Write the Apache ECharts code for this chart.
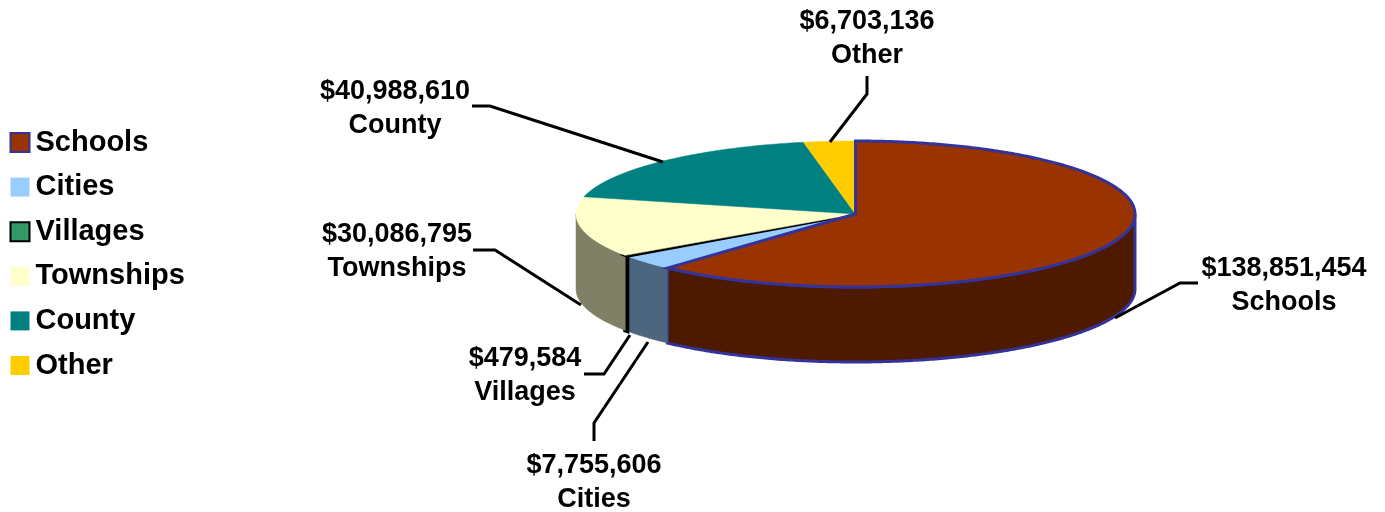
<!DOCTYPE html>
<html><head><meta charset="utf-8">
<style>html,body{margin:0;padding:0;background:#fff}#c{width:1385px;height:512px}</style>
<script src="https://cdn.jsdelivr.net/npm/echarts@6/dist/echarts.min.js"></script>
</head><body><div id="c"></div>
<script>
var categories = ['Schools','Cities','Villages','Townships','County','Other'];
var values = [138851454,7755606,479584,30086795,40988610,6703136];
var topColors = ['#993300','#99ccff','#339966','#ffffcc','#008080','#ffcc00'];
var sideColors = ['#4d1a00','#4d6680','#1a4d33','#808066','#004040','#806600'];
var strokeColors = ['#333399',null,'#000000',null,null,null];
var legendBorder = ['#333399','transparent','#000000','transparent','transparent','transparent'];
// Layout of labels and their leader lines (page pixels)
var labelCentres = [[1284,285.5],[594,482.5],[525,375.5],[397,252],[395,109],[867,38.5]];
var leaderPaths = [
  [[1115,318],[1180,283],[1198,283]],
  [[648,342],[594,423],[594,441]],
  [[630,335],[604,374],[584,374]],
  [[581,305],[495,250],[473,250]],
  [[663,162],[490,106],[472,106]],
  [[830,142],[867,94],[867,76]]
];
var CX=855.5, CY=214, RX=279.5, RY=73, DEPTH=75;
var total = values.reduce(function(a,b){return a+b;},0);
function pt(t,dy){return [CX+RX*Math.sin(t), CY-RY*Math.cos(t)+(dy||0)];}
function arc(a,b,dy){var n=Math.max(2,Math.ceil(Math.abs(b-a)/0.01)),o=[];for(var i=0;i<=n;i++)o.push(pt(a+(b-a)*i/n,dy));return o;}
function fmt(v){return '$'+v.toLocaleString('en-US');}
function render(idx){
  return function(params,api){
    var before=0; for(var i=0;i<idx;i++) before+=values[i];
    var a=before/total*2*Math.PI, b=(before+api.value(0))/total*2*Math.PI;
    var kids=[];
    var st=strokeColors[idx];
    // side wall: only the front half of the ellipse is visible
    var s=Math.max(a,Math.PI/2), e=Math.min(b,Math.PI*1.5);
    if(s<e){
      var up=arc(s,e,0), down=arc(e,s,DEPTH);
      kids.push({type:'polygon',z2:1,shape:{points:up.concat(down)},
        style:{fill:sideColors[idx],stroke:st||sideColors[idx],lineWidth:st?(idx==2?4:3):0.5}});
    }
    kids.push({type:'polygon',z2:idx==0?12:10,shape:{points:[[CX,CY]].concat(arc(a,b,0))},
      style:{fill:topColors[idx],stroke:st||topColors[idx],lineWidth:st?3:0.5}});
    var path=leaderPaths[idx];
    kids.push({type:'polyline',z2:20,shape:{points:path},style:{fill:null,stroke:'#000',lineWidth:3}});
    var c=labelCentres[idx];
    kids.push({type:'text',z2:30,x:c[0],y:c[1],style:{text:fmt(api.value(0))+'\n'+categories[idx],
      fill:'#000',font:'bold 27px "Liberation Sans", Arial, sans-serif',lineHeight:34,align:'center',verticalAlign:'middle'}});
    return {type:'group',children:kids};
  };
}
var series=categories.map(function(n,i){return {
  type:'custom',name:n,coordinateSystem:'none',silent:true,animation:false,clip:false,
  itemStyle:{color:topColors[i],borderColor:legendBorder[i],borderWidth:(i==0||i==2)?3:0},
  data:[[values[i]]],encode:{value:0},renderItem:render(i)};});
var chart=echarts.init(document.getElementById('c'),null,{renderer:'canvas'});
chart.setOption({
  animation:false,
  legend:{orient:'vertical',left:4.5,top:123,itemWidth:19,itemHeight:19,itemGap:15.6,
    data:categories.map(function(n,i){return {name:n,icon:'rect'};}),selectedMode:false,
    textStyle:{fontSize:29,fontWeight:'bold',color:'#000',fontFamily:'"Liberation Sans", Arial, sans-serif',padding:[0,0,0,1]}},
  series:series
});
</script></body></html>
